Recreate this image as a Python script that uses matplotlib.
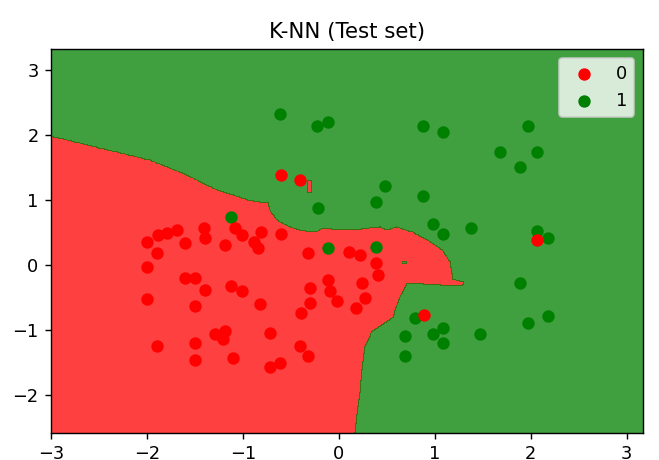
import matplotlib
matplotlib.use("Agg")
import matplotlib.pyplot as plt
import numpy as np
from matplotlib.colors import ListedColormap
from matplotlib.path import Path

# --- Data --------------------------------------------------------------------
# test points of class 0 (scaled age, scaled salary)
red_x = [-2.00, -1.88, -1.79, -1.69, -1.90, -2.00, -1.60, -1.41, -1.40, -1.19,
         -1.08, -1.01, -0.88, -0.81, -0.84, -0.60, -0.32, 0.11, 0.22, -1.60,
         -1.50, -1.40, -1.12, -1.01, -2.00, -1.50, -0.82, -0.30, -0.30, -0.39,
         -0.11, -0.09, -0.02, 0.39, 0.41, 0.24, 0.27, 0.18, -1.29, -1.19,
         -1.21, -0.72, -1.90, -1.50, -1.50, -1.10, -0.41, -0.32, -0.72, -0.61,
         -0.60, -0.41, 0.89, 2.06]
red_y = [0.36, 0.47, 0.50, 0.54, 0.19, -0.03, 0.34, 0.57, 0.42, 0.31,
         0.57, 0.47, 0.36, 0.52, 0.26, 0.49, 0.19, 0.21, 0.16, -0.20,
         -0.20, -0.38, -0.32, -0.40, -0.52, -0.63, -0.60, -0.35, -0.58, -0.73,
         -0.22, -0.40, -0.55, 0.03, -0.15, -0.27, -0.50, -0.66, -1.06, -1.01,
         -1.14, -1.04, -1.24, -1.19, -1.45, -1.42, -1.24, -1.40, -1.57, -1.50,
         1.39, 1.32, -0.77, 0.39]

# test points of class 1
green_x = [-0.61, -0.23, -0.11, 0.88, 1.09, 1.97, 1.68, 2.06, 1.89, 0.48,
           0.39, 0.88, -0.22, -1.12, 0.98, 1.09, 1.38, 2.06, 2.18, -0.11,
           0.39, 1.89, 1.97, 2.18, 1.47, 0.79, 0.69, 0.98, 1.09, 1.09, 0.69]
green_y = [2.33, 2.15, 2.20, 2.15, 2.05, 2.15, 1.74, 1.74, 1.51, 1.22,
           0.98, 1.06, 0.88, 0.75, 0.64, 0.48, 0.58, 0.53, 0.42, 0.26,
           0.29, -0.27, -0.89, -0.78, -1.06, -0.81, -1.09, -1.06, -0.96, -1.19,
           -1.40]

# outline of the region predicted as class 0
region0_x = [-3.2, -1.97, -1.63, -1.27, -0.93, -0.74, -0.72, -0.65, -0.51, -0.41,
             -0.23, -0.17, 0.11, 0.43, 0.50, 0.60, 0.77, 0.92, 1.08, 1.16,
             1.19, 1.29, 1.29, 1.05, 0.71, 0.64, 0.56, 0.34, 0.27, 0.24,
             0.22, 0.19, 0.17, 0.16, -3.2]
region0_y = [2.06, 1.62, 1.42, 1.16, 1.00, 0.96, 0.85, 0.70, 0.59, 0.54,
             0.51, 0.57, 0.54, 0.59, 0.54, 0.59, 0.51, 0.39, 0.24, 0.05,
             -0.22, -0.25, -0.31, -0.30, -0.28, -0.48, -0.80, -1.03, -1.25, -1.60,
             -1.95, -2.29, -2.57, -2.70, -2.70]
# small class 0 sliver inside the class 1 area
sliver0_x = [-0.33, -0.29, -0.29, -0.33]
sliver0_y = [1.12, 1.12, 1.30, 1.30]
# small class 1 island inside the class 0 area
island1_x = [0.66, 0.70, 0.70, 0.66]
island1_y = [0.02, 0.02, 0.06, 0.06]

X_MIN, X_MAX = -3.0, 3.17
Y_MIN, Y_MAX = -2.58, 3.33

# --- Decision surface on a grid ----------------------------------------------
X1, X2 = np.meshgrid(np.arange(X_MIN, X_MAX + 0.01, 0.01),
                     np.arange(Y_MIN, Y_MAX + 0.01, 0.01))
pts = np.column_stack([X1.ravel(), X2.ravel()])
in0 = Path(np.column_stack([region0_x, region0_y])).contains_points(pts)
in0 |= Path(np.column_stack([sliver0_x, sliver0_y])).contains_points(pts)
in1 = Path(np.column_stack([island1_x, island1_y])).contains_points(pts)
pred = np.where(in0 & ~in1, 0, 1).reshape(X1.shape)

# --- Plot --------------------------------------------------------------------
DPI = 127.4
cmap = ListedColormap(("red", "green"))
fig = plt.figure(figsize=(5.1728, 3.6108), dpi=DPI)
ax = fig.add_axes([51 / 659, 1 - 433 / 460, 592 / 659, 384 / 460])
ax.contourf(X1, X2, pred, levels=[-0.5, 0.5, 1.5], alpha=0.75, cmap=cmap)
ax.set_xlim(X_MIN, X_MAX)
ax.set_ylim(Y_MIN, Y_MAX)
ax.scatter(red_x, red_y, color=cmap(0), label="0", zorder=3)
ax.scatter(green_x, green_y, color=cmap(1), label="1", zorder=2)
ax.set_title("K-NN (Test set)")
ax.legend()

fig.savefig("out.png", dpi=DPI)
plt.close(fig)
